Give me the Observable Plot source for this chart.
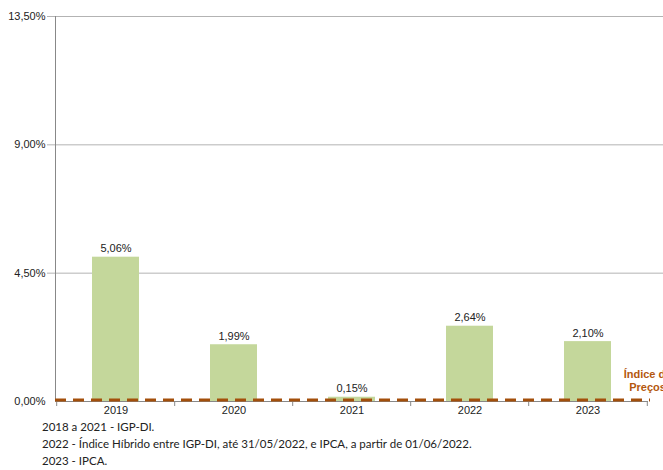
<!DOCTYPE html>
<html>
<head>
<meta charset="utf-8">
<script src="https://cdn.jsdelivr.net/npm/d3@7"></script>
<script src="https://cdn.jsdelivr.net/npm/@observablehq/plot@0.6"></script>
<style>
  html, body { margin: 0; padding: 0; background: #fff; }
  #chart svg { display: block; overflow: visible; }
  .notes { font-family: Lato, "Open Sans", sans-serif; font-size: 11.5px; color: #222; margin-left: 42px; line-height: 17px; }
</style>
</head>
<body>
<div id="chart"></div>
<div class="notes" id="notes"></div>
<script>
// Annual readjustment index by year
const years = ["2019", "2020", "2021", "2022", "2023"];
const rates = [5.06, 1.99, 0.15, 2.64, 2.10];
const yTicks = [0, 4.5, 9, 13.5];
const priceIndexLevel = [0.05];
const priceIndexLabel = "Índice de\nPreços";
const notes = [
  "2018 a 2021 - IGP-DI.",
  "2022 - Índice Híbrido entre IGP-DI, até 31/05/2022, e IPCA, a partir de 01/06/2022.",
  "2023 - IPCA."
];

const data = years.map((year, i) => ({year, rate: rates[i]}));
const fmt = v => v.toFixed(2).replace(".", ",") + "%";

const width = 663, height = 418;
const marginLeft = 55, marginRight = 15, marginTop = 16, marginBottom = 17;
const step = (width - marginLeft - marginRight) / years.length;

const chart = Plot.plot({
  width, height, marginLeft, marginRight, marginTop, marginBottom,
  style: {fontFamily: "'Liberation Sans', Arial, sans-serif", fontSize: "11px", color: "#222"},
  x: {domain: years, paddingInner: 0.6, paddingOuter: 0.3, label: null},
  y: {domain: [0, 13.5], label: null},
  marks: [
    Plot.ruleY(yTicks.slice(1), {stroke: "#b3b3b3", insetLeft: -8, insetRight: -15}),
    Plot.axisY({ticks: yTicks, tickFormat: fmt, tickSize: 0, tickPadding: 10, fill: "#222", fontSize: 11, label: null}),
    Plot.axisX({tickSize: 0, tickPadding: 5, fill: "#222", fontSize: 11, label: null}),
    Plot.axisX({tickSize: 5, dx: -step / 2, text: null, stroke: "#888", label: null}),
    Plot.axisX([years[years.length - 1]], {tickSize: 5, dx: step / 2, text: null, stroke: "#888", label: null}),
    Plot.barY(data, {x: "year", y: "rate", fill: "#c4d79b"}),
    Plot.text(data, {x: "year", y: "rate", text: d => fmt(d.rate), lineAnchor: "bottom", dy: -5, fontSize: 11, fill: "#222"}),
    Plot.ruleY([0], {stroke: "#888"}),
    Plot.frame({anchor: "left", stroke: "#888"}),
    Plot.ruleY(priceIndexLevel, {stroke: "#a34f0b", strokeWidth: 3, strokeDasharray: "11,7", insetRight: -2}),
    Plot.text([priceIndexLabel], {frameAnchor: "bottom-right", textAnchor: "middle", lineAnchor: "bottom", dx: -1, dy: -11, lineHeight: 1.15, fontWeight: "bold", fontSize: 11, fill: "#b4580f"})
  ]
});
document.getElementById("chart").appendChild(chart);

const notesEl = document.getElementById("notes");
for (const n of notes) {
  const div = document.createElement("div");
  div.textContent = n;
  notesEl.appendChild(div);
}
</script>
</body>
</html>
